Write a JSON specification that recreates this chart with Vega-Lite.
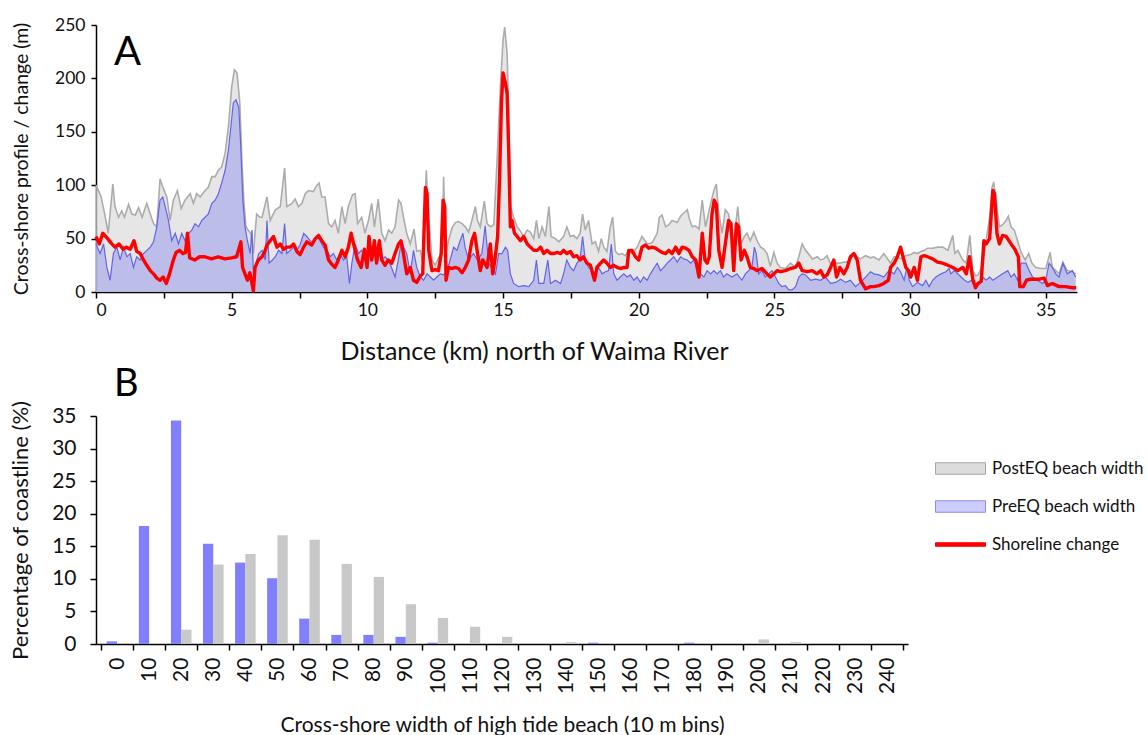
{
  "$schema": "https://vega.github.io/schema/vega-lite/v6.json",
  "padding": {"left": 8, "top": 16, "right": 0, "bottom": 0},
  "background": "white",
  "datasets": {
    "post": [{"k":0,"v":100},{"k":0.18,"v":90},{"k":0.33,"v":72},{"k":0.45,"v":55},{"k":0.62,"v":101},{"k":0.7,"v":80},{"k":0.83,"v":70},{"k":0.95,"v":76},{"k":1.05,"v":70},{"k":1.2,"v":82},{"k":1.32,"v":73},{"k":1.45,"v":72},{"k":1.57,"v":79},{"k":1.7,"v":70},{"k":1.87,"v":83},{"k":2.0,"v":73},{"k":2.12,"v":64},{"k":2.24,"v":61},{"k":2.36,"v":106},{"k":2.48,"v":97},{"k":2.61,"v":89},{"k":2.73,"v":67},{"k":2.85,"v":86},{"k":3.0,"v":95},{"k":3.14,"v":78},{"k":3.28,"v":86},{"k":3.47,"v":92},{"k":3.59,"v":83},{"k":3.71,"v":92},{"k":3.84,"v":89},{"k":4.02,"v":95},{"k":4.14,"v":98},{"k":4.27,"v":108},{"k":4.39,"v":108},{"k":4.51,"v":114},{"k":4.63,"v":117},{"k":4.76,"v":130},{"k":4.88,"v":155},{"k":5.0,"v":192},{"k":5.1,"v":208},{"k":5.2,"v":205},{"k":5.3,"v":177},{"k":5.38,"v":120},{"k":5.45,"v":85},{"k":5.52,"v":62},{"k":5.6,"v":58},{"k":5.7,"v":55},{"k":5.8,"v":36},{"k":5.92,"v":73},{"k":6.04,"v":70},{"k":6.12,"v":70},{"k":6.3,"v":89},{"k":6.42,"v":67},{"k":6.61,"v":77},{"k":6.79,"v":80},{"k":6.95,"v":116},{"k":7.03,"v":80},{"k":7.22,"v":83},{"k":7.34,"v":87},{"k":7.46,"v":80},{"k":7.59,"v":83},{"k":7.71,"v":92},{"k":7.83,"v":95},{"k":8.01,"v":94},{"k":8.14,"v":100},{"k":8.22,"v":102},{"k":8.32,"v":89},{"k":8.44,"v":89},{"k":8.57,"v":64},{"k":8.69,"v":61},{"k":8.81,"v":67},{"k":8.93,"v":55},{"k":9.06,"v":80},{"k":9.18,"v":64},{"k":9.3,"v":80},{"k":9.45,"v":91},{"k":9.55,"v":92},{"k":9.64,"v":64},{"k":9.79,"v":70},{"k":9.91,"v":55},{"k":10.04,"v":67},{"k":10.16,"v":83},{"k":10.26,"v":61},{"k":10.4,"v":87},{"k":10.53,"v":55},{"k":10.65,"v":48},{"k":10.78,"v":58},{"k":10.9,"v":55},{"k":11.02,"v":61},{"k":11.15,"v":86},{"k":11.24,"v":83},{"k":11.33,"v":70},{"k":11.45,"v":55},{"k":11.58,"v":45},{"k":11.72,"v":59},{"k":11.82,"v":38},{"k":11.95,"v":39},{"k":12.04,"v":28},{"k":12.17,"v":114},{"k":12.25,"v":73},{"k":12.38,"v":30},{"k":12.5,"v":25},{"k":12.62,"v":32},{"k":12.75,"v":36},{"k":12.81,"v":108},{"k":12.89,"v":35},{"k":12.99,"v":48},{"k":13.12,"v":60},{"k":13.24,"v":65},{"k":13.36,"v":66},{"k":13.49,"v":64},{"k":13.61,"v":61},{"k":13.73,"v":56},{"k":13.85,"v":67},{"k":13.98,"v":80},{"k":14.06,"v":67},{"k":14.16,"v":61},{"k":14.31,"v":85},{"k":14.41,"v":64},{"k":14.53,"v":61},{"k":14.66,"v":63},{"k":14.78,"v":123},{"k":14.9,"v":192},{"k":15.0,"v":236},{"k":15.06,"v":248},{"k":15.15,"v":223},{"k":15.21,"v":161},{"k":15.27,"v":80},{"k":15.39,"v":70},{"k":15.52,"v":61},{"k":15.64,"v":57},{"k":15.76,"v":52},{"k":15.89,"v":58},{"k":16.01,"v":56},{"k":16.13,"v":50},{"k":16.23,"v":67},{"k":16.32,"v":50},{"k":16.44,"v":61},{"k":16.56,"v":52},{"k":16.69,"v":80},{"k":16.77,"v":52},{"k":16.93,"v":50},{"k":17.06,"v":47},{"k":17.23,"v":52},{"k":17.35,"v":61},{"k":17.48,"v":52},{"k":17.6,"v":53},{"k":17.72,"v":50},{"k":17.84,"v":55},{"k":17.93,"v":73},{"k":18.03,"v":58},{"k":18.15,"v":67},{"k":18.28,"v":45},{"k":18.4,"v":47},{"k":18.52,"v":38},{"k":18.62,"v":50},{"k":18.71,"v":42},{"k":18.83,"v":38},{"k":18.95,"v":61},{"k":19.04,"v":70},{"k":19.14,"v":38},{"k":19.26,"v":35},{"k":19.38,"v":36},{"k":19.51,"v":34},{"k":19.63,"v":39},{"k":19.75,"v":36},{"k":19.94,"v":42},{"k":20.12,"v":52},{"k":20.31,"v":45},{"k":20.49,"v":46},{"k":20.68,"v":55},{"k":20.76,"v":70},{"k":20.86,"v":72},{"k":20.99,"v":61},{"k":21.11,"v":63},{"k":21.23,"v":67},{"k":21.42,"v":65},{"k":21.54,"v":71},{"k":21.66,"v":74},{"k":21.79,"v":77},{"k":21.87,"v":68},{"k":21.97,"v":61},{"k":22.09,"v":62},{"k":22.22,"v":59},{"k":22.34,"v":86},{"k":22.46,"v":61},{"k":22.65,"v":83},{"k":22.77,"v":95},{"k":22.86,"v":101},{"k":22.93,"v":78},{"k":23.07,"v":55},{"k":23.19,"v":77},{"k":23.31,"v":73},{"k":23.4,"v":55},{"k":23.5,"v":48},{"k":23.65,"v":80},{"k":23.77,"v":45},{"k":23.89,"v":52},{"k":23.99,"v":55},{"k":24.11,"v":48},{"k":24.24,"v":56},{"k":24.36,"v":48},{"k":24.49,"v":42},{"k":24.62,"v":40},{"k":24.73,"v":36},{"k":24.85,"v":24},{"k":24.98,"v":37},{"k":25.1,"v":27},{"k":25.22,"v":23},{"k":25.41,"v":22},{"k":25.59,"v":27},{"k":25.77,"v":23},{"k":25.9,"v":33},{"k":26.02,"v":45},{"k":26.15,"v":39},{"k":26.28,"v":35},{"k":26.4,"v":31},{"k":26.58,"v":33},{"k":26.7,"v":30},{"k":26.82,"v":31},{"k":26.94,"v":34},{"k":27.07,"v":26},{"k":27.19,"v":25},{"k":27.29,"v":27},{"k":27.41,"v":27},{"k":27.56,"v":28},{"k":27.68,"v":28},{"k":27.8,"v":30},{"k":27.93,"v":36},{"k":28.05,"v":33},{"k":28.17,"v":31},{"k":28.36,"v":34},{"k":28.54,"v":32},{"k":28.66,"v":33},{"k":28.85,"v":30},{"k":29.03,"v":36},{"k":29.2,"v":30},{"k":29.28,"v":27},{"k":29.41,"v":33},{"k":29.53,"v":33},{"k":29.65,"v":31},{"k":29.84,"v":34},{"k":30.02,"v":35},{"k":30.15,"v":37},{"k":30.27,"v":36},{"k":30.4,"v":38},{"k":30.52,"v":39},{"k":30.64,"v":41},{"k":30.83,"v":41},{"k":31.01,"v":42},{"k":31.2,"v":42},{"k":31.39,"v":39},{"k":31.57,"v":53},{"k":31.65,"v":36},{"k":31.76,"v":39},{"k":31.94,"v":30},{"k":32.07,"v":27},{"k":32.2,"v":53},{"k":32.31,"v":20},{"k":32.41,"v":15},{"k":32.5,"v":16},{"k":32.62,"v":22},{"k":32.72,"v":33},{"k":32.8,"v":48},{"k":32.93,"v":70},{"k":33.02,"v":98},{"k":33.08,"v":103},{"k":33.17,"v":86},{"k":33.29,"v":61},{"k":33.41,"v":63},{"k":33.54,"v":67},{"k":33.62,"v":71},{"k":33.72,"v":61},{"k":33.84,"v":58},{"k":33.96,"v":48},{"k":34.09,"v":37},{"k":34.24,"v":30},{"k":34.37,"v":36},{"k":34.49,"v":27},{"k":34.63,"v":23},{"k":34.82,"v":22},{"k":35.0,"v":22},{"k":35.16,"v":37},{"k":35.24,"v":23},{"k":35.37,"v":20},{"k":35.49,"v":17},{"k":35.63,"v":28},{"k":35.79,"v":20},{"k":35.98,"v":19},{"k":36.1,"v":17}],
    "pre": [{"k":0,"v":45},{"k":0.15,"v":36},{"k":0.28,"v":45},{"k":0.4,"v":23},{"k":0.52,"v":11},{"k":0.64,"v":36},{"k":0.77,"v":42},{"k":0.89,"v":30},{"k":1.01,"v":42},{"k":1.14,"v":33},{"k":1.26,"v":36},{"k":1.38,"v":23},{"k":1.5,"v":33},{"k":1.63,"v":30},{"k":1.75,"v":36},{"k":1.87,"v":39},{"k":2.0,"v":42},{"k":2.12,"v":47},{"k":2.24,"v":61},{"k":2.36,"v":86},{"k":2.46,"v":89},{"k":2.55,"v":80},{"k":2.67,"v":67},{"k":2.79,"v":48},{"k":2.92,"v":55},{"k":3.04,"v":45},{"k":3.16,"v":55},{"k":3.28,"v":48},{"k":3.41,"v":55},{"k":3.53,"v":58},{"k":3.65,"v":64},{"k":3.78,"v":61},{"k":3.9,"v":67},{"k":4.02,"v":70},{"k":4.14,"v":73},{"k":4.27,"v":83},{"k":4.39,"v":86},{"k":4.51,"v":92},{"k":4.63,"v":102},{"k":4.76,"v":114},{"k":4.88,"v":133},{"k":4.97,"v":155},{"k":5.06,"v":177},{"k":5.16,"v":180},{"k":5.26,"v":173},{"k":5.33,"v":139},{"k":5.41,"v":86},{"k":5.49,"v":61},{"k":5.58,"v":48},{"k":5.68,"v":36},{"k":5.75,"v":58},{"k":5.8,"v":17},{"k":5.93,"v":30},{"k":6.0,"v":36},{"k":6.12,"v":39},{"k":6.24,"v":30},{"k":6.3,"v":67},{"k":6.38,"v":27},{"k":6.5,"v":30},{"k":6.61,"v":33},{"k":6.73,"v":39},{"k":6.85,"v":36},{"k":6.95,"v":64},{"k":7.03,"v":36},{"k":7.16,"v":39},{"k":7.28,"v":42},{"k":7.4,"v":39},{"k":7.52,"v":44},{"k":7.65,"v":55},{"k":7.77,"v":52},{"k":7.89,"v":48},{"k":8.01,"v":47},{"k":8.14,"v":52},{"k":8.26,"v":48},{"k":8.38,"v":42},{"k":8.5,"v":39},{"k":8.63,"v":33},{"k":8.75,"v":36},{"k":8.87,"v":30},{"k":8.99,"v":36},{"k":9.12,"v":30},{"k":9.24,"v":33},{"k":9.34,"v":8},{"k":9.43,"v":27},{"k":9.55,"v":45},{"k":9.67,"v":36},{"k":9.79,"v":39},{"k":9.91,"v":33},{"k":10.04,"v":42},{"k":10.16,"v":36},{"k":10.28,"v":42},{"k":10.4,"v":36},{"k":10.53,"v":30},{"k":10.65,"v":33},{"k":10.77,"v":30},{"k":10.89,"v":23},{"k":11.02,"v":14},{"k":11.14,"v":30},{"k":11.26,"v":48},{"k":11.33,"v":42},{"k":11.45,"v":36},{"k":11.58,"v":17},{"k":11.7,"v":39},{"k":11.82,"v":23},{"k":11.95,"v":14},{"k":12.07,"v":11},{"k":12.2,"v":17},{"k":12.32,"v":14},{"k":12.44,"v":11},{"k":12.56,"v":14},{"k":12.69,"v":17},{"k":12.81,"v":16},{"k":12.93,"v":20},{"k":13.05,"v":30},{"k":13.18,"v":42},{"k":13.3,"v":39},{"k":13.42,"v":48},{"k":13.52,"v":55},{"k":13.6,"v":42},{"k":13.73,"v":30},{"k":13.91,"v":36},{"k":14.06,"v":30},{"k":14.22,"v":36},{"k":14.34,"v":62},{"k":14.47,"v":27},{"k":14.59,"v":23},{"k":14.72,"v":17},{"k":14.84,"v":36},{"k":14.96,"v":36},{"k":15.09,"v":42},{"k":15.17,"v":39},{"k":15.27,"v":17},{"k":15.39,"v":8},{"k":15.58,"v":5},{"k":15.76,"v":6},{"k":15.95,"v":5},{"k":16.13,"v":11},{"k":16.23,"v":30},{"k":16.32,"v":8},{"k":16.5,"v":8},{"k":16.65,"v":30},{"k":16.75,"v":8},{"k":16.93,"v":11},{"k":17.12,"v":8},{"k":17.23,"v":17},{"k":17.35,"v":30},{"k":17.48,"v":23},{"k":17.6,"v":20},{"k":17.72,"v":27},{"k":17.84,"v":31},{"k":17.93,"v":52},{"k":18.03,"v":30},{"k":18.15,"v":23},{"k":18.28,"v":20},{"k":18.4,"v":17},{"k":18.52,"v":23},{"k":18.65,"v":17},{"k":18.77,"v":19},{"k":18.89,"v":20},{"k":18.99,"v":45},{"k":19.08,"v":17},{"k":19.2,"v":11},{"k":19.32,"v":14},{"k":19.45,"v":17},{"k":19.57,"v":14},{"k":19.69,"v":16},{"k":19.82,"v":11},{"k":19.94,"v":14},{"k":20.06,"v":9},{"k":20.18,"v":14},{"k":20.31,"v":11},{"k":20.43,"v":17},{"k":20.55,"v":22},{"k":20.68,"v":27},{"k":20.8,"v":20},{"k":20.92,"v":23},{"k":21.05,"v":27},{"k":21.17,"v":30},{"k":21.29,"v":33},{"k":21.42,"v":28},{"k":21.54,"v":33},{"k":21.66,"v":31},{"k":21.79,"v":30},{"k":21.91,"v":27},{"k":22.03,"v":30},{"k":22.15,"v":23},{"k":22.28,"v":17},{"k":22.4,"v":14},{"k":22.52,"v":20},{"k":22.65,"v":17},{"k":22.77,"v":20},{"k":22.89,"v":17},{"k":23.01,"v":20},{"k":23.13,"v":14},{"k":23.25,"v":17},{"k":23.43,"v":14},{"k":23.62,"v":17},{"k":23.8,"v":11},{"k":23.93,"v":17},{"k":24.05,"v":20},{"k":24.17,"v":23},{"k":24.26,"v":42},{"k":24.33,"v":36},{"k":24.42,"v":17},{"k":24.54,"v":20},{"k":24.66,"v":14},{"k":24.79,"v":17},{"k":24.91,"v":20},{"k":25.04,"v":14},{"k":25.16,"v":8},{"k":25.28,"v":5},{"k":25.41,"v":6},{"k":25.53,"v":2},{"k":25.65,"v":2},{"k":25.78,"v":5},{"k":25.9,"v":14},{"k":26.02,"v":17},{"k":26.15,"v":16},{"k":26.33,"v":11},{"k":26.51,"v":12},{"k":26.7,"v":11},{"k":26.88,"v":14},{"k":27.07,"v":8},{"k":27.25,"v":9},{"k":27.44,"v":12},{"k":27.62,"v":9},{"k":27.8,"v":11},{"k":27.99,"v":5},{"k":28.17,"v":9},{"k":28.36,"v":14},{"k":28.54,"v":19},{"k":28.67,"v":17},{"k":28.85,"v":16},{"k":29.03,"v":14},{"k":29.22,"v":20},{"k":29.41,"v":17},{"k":29.53,"v":23},{"k":29.65,"v":19},{"k":29.78,"v":11},{"k":29.88,"v":23},{"k":29.97,"v":11},{"k":30.09,"v":5},{"k":30.27,"v":9},{"k":30.46,"v":6},{"k":30.58,"v":11},{"k":30.7,"v":5},{"k":30.83,"v":11},{"k":30.95,"v":14},{"k":31.14,"v":17},{"k":31.32,"v":19},{"k":31.44,"v":22},{"k":31.5,"v":17},{"k":31.63,"v":20},{"k":31.76,"v":17},{"k":31.88,"v":14},{"k":32.01,"v":11},{"k":32.13,"v":9},{"k":32.26,"v":11},{"k":32.38,"v":5},{"k":32.56,"v":8},{"k":32.68,"v":14},{"k":32.8,"v":11},{"k":32.93,"v":14},{"k":33.05,"v":11},{"k":33.23,"v":14},{"k":33.41,"v":17},{"k":33.6,"v":20},{"k":33.72,"v":14},{"k":33.84,"v":17},{"k":33.96,"v":11},{"k":34.09,"v":27},{"k":34.27,"v":27},{"k":34.39,"v":20},{"k":34.51,"v":14},{"k":34.69,"v":11},{"k":34.88,"v":8},{"k":35.0,"v":11},{"k":35.12,"v":27},{"k":35.24,"v":23},{"k":35.37,"v":17},{"k":35.49,"v":14},{"k":35.63,"v":27},{"k":35.79,"v":17},{"k":35.98,"v":20},{"k":36.1,"v":14}],
    "chg": [{"k":0,"v":52},{"k":0.12,"v":45},{"k":0.25,"v":55},{"k":0.43,"v":50},{"k":0.55,"v":46},{"k":0.7,"v":42},{"k":0.85,"v":45},{"k":1.0,"v":40},{"k":1.12,"v":42},{"k":1.26,"v":40},{"k":1.4,"v":48},{"k":1.5,"v":38},{"k":1.63,"v":36},{"k":1.75,"v":30},{"k":1.87,"v":25},{"k":2.0,"v":20},{"k":2.12,"v":17},{"k":2.24,"v":13},{"k":2.36,"v":11},{"k":2.47,"v":14},{"k":2.59,"v":8},{"k":2.71,"v":17},{"k":2.85,"v":30},{"k":2.95,"v":37},{"k":3.08,"v":39},{"k":3.2,"v":36},{"k":3.3,"v":37},{"k":3.37,"v":55},{"k":3.45,"v":32},{"k":3.64,"v":30},{"k":3.82,"v":33},{"k":4.01,"v":33},{"k":4.25,"v":31},{"k":4.5,"v":33},{"k":4.75,"v":31},{"k":4.99,"v":32},{"k":5.18,"v":33},{"k":5.34,"v":47},{"k":5.4,"v":23},{"k":5.49,"v":17},{"k":5.58,"v":11},{"k":5.67,"v":18},{"k":5.8,"v":1},{"k":5.86,"v":23},{"k":5.98,"v":30},{"k":6.12,"v":33},{"k":6.22,"v":38},{"k":6.3,"v":44},{"k":6.42,"v":48},{"k":6.54,"v":52},{"k":6.67,"v":42},{"k":6.79,"v":45},{"k":6.91,"v":40},{"k":7.03,"v":42},{"k":7.16,"v":42},{"k":7.28,"v":45},{"k":7.4,"v":38},{"k":7.52,"v":35},{"k":7.65,"v":42},{"k":7.77,"v":47},{"k":7.95,"v":44},{"k":8.08,"v":50},{"k":8.2,"v":53},{"k":8.32,"v":48},{"k":8.44,"v":44},{"k":8.57,"v":30},{"k":8.69,"v":26},{"k":8.81,"v":23},{"k":8.93,"v":30},{"k":9.06,"v":39},{"k":9.18,"v":33},{"k":9.3,"v":42},{"k":9.4,"v":55},{"k":9.52,"v":42},{"k":9.64,"v":30},{"k":9.77,"v":23},{"k":9.89,"v":40},{"k":9.99,"v":23},{"k":10.06,"v":52},{"k":10.16,"v":30},{"k":10.26,"v":48},{"k":10.34,"v":27},{"k":10.44,"v":48},{"k":10.53,"v":30},{"k":10.65,"v":25},{"k":10.77,"v":30},{"k":10.9,"v":27},{"k":11.02,"v":36},{"k":11.15,"v":45},{"k":11.24,"v":48},{"k":11.33,"v":36},{"k":11.45,"v":17},{"k":11.58,"v":23},{"k":11.7,"v":11},{"k":11.82,"v":9},{"k":11.95,"v":15},{"k":12.04,"v":17},{"k":12.1,"v":67},{"k":12.14,"v":98},{"k":12.2,"v":92},{"k":12.26,"v":39},{"k":12.38,"v":20},{"k":12.5,"v":21},{"k":12.62,"v":20},{"k":12.72,"v":36},{"k":12.79,"v":86},{"k":12.85,"v":80},{"k":12.9,"v":11},{"k":12.99,"v":23},{"k":13.12,"v":22},{"k":13.24,"v":23},{"k":13.36,"v":22},{"k":13.49,"v":18},{"k":13.61,"v":23},{"k":13.73,"v":30},{"k":13.85,"v":48},{"k":13.95,"v":55},{"k":14.06,"v":36},{"k":14.16,"v":20},{"k":14.25,"v":30},{"k":14.41,"v":23},{"k":14.53,"v":45},{"k":14.62,"v":17},{"k":14.7,"v":30},{"k":14.8,"v":52},{"k":14.87,"v":105},{"k":14.94,"v":177},{"k":15.0,"v":205},{"k":15.09,"v":195},{"k":15.15,"v":186},{"k":15.21,"v":130},{"k":15.27,"v":61},{"k":15.33,"v":67},{"k":15.42,"v":55},{"k":15.52,"v":52},{"k":15.64,"v":48},{"k":15.76,"v":52},{"k":15.89,"v":45},{"k":16.01,"v":42},{"k":16.13,"v":39},{"k":16.26,"v":39},{"k":16.38,"v":42},{"k":16.5,"v":36},{"k":16.62,"v":39},{"k":16.75,"v":36},{"k":16.87,"v":36},{"k":17.0,"v":37},{"k":17.12,"v":36},{"k":17.23,"v":39},{"k":17.35,"v":36},{"k":17.48,"v":38},{"k":17.6,"v":33},{"k":17.72,"v":34},{"k":17.84,"v":30},{"k":17.96,"v":33},{"k":18.09,"v":27},{"k":18.22,"v":25},{"k":18.37,"v":11},{"k":18.46,"v":23},{"k":18.59,"v":27},{"k":18.71,"v":30},{"k":18.83,"v":27},{"k":18.95,"v":23},{"k":19.08,"v":25},{"k":19.2,"v":23},{"k":19.32,"v":22},{"k":19.45,"v":23},{"k":19.57,"v":23},{"k":19.63,"v":39},{"k":19.75,"v":39},{"k":19.88,"v":33},{"k":20.0,"v":30},{"k":20.12,"v":42},{"k":20.25,"v":44},{"k":20.37,"v":41},{"k":20.49,"v":42},{"k":20.62,"v":41},{"k":20.74,"v":39},{"k":20.86,"v":37},{"k":20.99,"v":36},{"k":21.11,"v":39},{"k":21.23,"v":36},{"k":21.36,"v":42},{"k":21.48,"v":36},{"k":21.6,"v":42},{"k":21.73,"v":41},{"k":21.85,"v":39},{"k":21.97,"v":33},{"k":22.1,"v":30},{"k":22.22,"v":14},{"k":22.34,"v":55},{"k":22.44,"v":30},{"k":22.52,"v":27},{"k":22.6,"v":33},{"k":22.7,"v":73},{"k":22.78,"v":86},{"k":22.86,"v":82},{"k":22.95,"v":39},{"k":23.07,"v":23},{"k":23.19,"v":45},{"k":23.31,"v":67},{"k":23.4,"v":64},{"k":23.5,"v":20},{"k":23.6,"v":64},{"k":23.68,"v":61},{"k":23.77,"v":30},{"k":23.89,"v":39},{"k":23.99,"v":33},{"k":24.11,"v":23},{"k":24.24,"v":22},{"k":24.36,"v":20},{"k":24.54,"v":22},{"k":24.73,"v":17},{"k":24.85,"v":14},{"k":24.98,"v":17},{"k":25.1,"v":20},{"k":25.22,"v":19},{"k":25.41,"v":20},{"k":25.59,"v":22},{"k":25.77,"v":23},{"k":25.9,"v":27},{"k":26.02,"v":20},{"k":26.21,"v":19},{"k":26.39,"v":20},{"k":26.57,"v":17},{"k":26.7,"v":20},{"k":26.82,"v":14},{"k":26.94,"v":16},{"k":27.07,"v":23},{"k":27.19,"v":30},{"k":27.29,"v":14},{"k":27.41,"v":23},{"k":27.56,"v":17},{"k":27.68,"v":23},{"k":27.8,"v":33},{"k":27.93,"v":36},{"k":28.05,"v":30},{"k":28.17,"v":11},{"k":28.36,"v":3},{"k":28.54,"v":5},{"k":28.66,"v":5},{"k":28.85,"v":6},{"k":29.03,"v":8},{"k":29.2,"v":11},{"k":29.28,"v":23},{"k":29.41,"v":27},{"k":29.53,"v":33},{"k":29.65,"v":42},{"k":29.74,"v":33},{"k":29.84,"v":23},{"k":29.94,"v":20},{"k":30.02,"v":14},{"k":30.15,"v":23},{"k":30.27,"v":11},{"k":30.4,"v":33},{"k":30.52,"v":34},{"k":30.64,"v":33},{"k":30.83,"v":31},{"k":31.01,"v":28},{"k":31.2,"v":27},{"k":31.39,"v":25},{"k":31.57,"v":23},{"k":31.76,"v":20},{"k":31.94,"v":23},{"k":32.07,"v":17},{"k":32.19,"v":33},{"k":32.31,"v":12},{"k":32.41,"v":4},{"k":32.5,"v":8},{"k":32.62,"v":10},{"k":32.72,"v":48},{"k":32.8,"v":45},{"k":32.93,"v":50},{"k":33.05,"v":95},{"k":33.11,"v":92},{"k":33.2,"v":55},{"k":33.29,"v":45},{"k":33.41,"v":53},{"k":33.54,"v":52},{"k":33.72,"v":45},{"k":33.86,"v":40},{"k":33.99,"v":33},{"k":34.04,"v":5},{"k":34.17,"v":5},{"k":34.29,"v":11},{"k":34.42,"v":12},{"k":34.57,"v":12},{"k":34.76,"v":12},{"k":34.94,"v":13},{"k":35.06,"v":6},{"k":35.24,"v":8},{"k":35.49,"v":5},{"k":35.73,"v":5},{"k":35.98,"v":4},{"k":36.12,"v":4}],
    "bins": [{"bin":0,"pre":0.4,"post":0},{"bin":10,"pre":18.1,"post":0.1},{"bin":20,"pre":34.3,"post":2.2},{"bin":30,"pre":15.4,"post":12.2},{"bin":40,"pre":12.5,"post":13.8},{"bin":50,"pre":10.1,"post":16.7},{"bin":60,"pre":3.9,"post":16.0},{"bin":70,"pre":1.4,"post":12.3},{"bin":80,"pre":1.4,"post":10.3},{"bin":90,"pre":1.1,"post":6.1},{"bin":100,"pre":0.2,"post":4.0},{"bin":110,"pre":0,"post":2.65},{"bin":120,"pre":0,"post":1.1},{"bin":130,"pre":0,"post":0},{"bin":140,"pre":0,"post":0.3},{"bin":150,"pre":0.2,"post":0},{"bin":160,"pre":0,"post":0},{"bin":170,"pre":0,"post":0},{"bin":180,"pre":0.2,"post":0},{"bin":190,"pre":0,"post":0},{"bin":200,"pre":0,"post":0.7},{"bin":210,"pre":0,"post":0.3},{"bin":220,"pre":0,"post":0},{"bin":230,"pre":0,"post":0},{"bin":240,"pre":0,"post":0}],
    "leg": [{"name":"PostEQ beach width"},{"name":"PreEQ beach width"},{"name":"Shoreline change"}]
  },
  "vconcat": [
    {
      "width": 981,
      "height": 267,
      "title": {"text": "A", "anchor": "start", "frame": "group", "fontSize": 40, "font": "Lato", "fontWeight": "normal", "color": "#000", "dx": 18, "dy": 57, "offset": 0},
      "layer": [
        {
          "data": {"name": "post"},
          "mark": {"type": "area", "color": "#dcdcdc", "line": {"color": "#acacac", "strokeWidth": 1.6}},
          "encoding": {
            "x": {"field": "k", "type": "quantitative", "scale": {"domain": [0, 36.15], "nice": false, "zero": false},
              "axis": {"title": "Distance (km) north of Waima River", "titleFontSize": 25, "titleX": 438, "values": [0,2.5,5,7.5,10,12.5,15,17.5,20,22.5,25,27.5,30,32.5,35], "tickCount": 40, "labelExpr": "datum.value % 5 == 0 ? datum.label : ''", "labelOverlap": false, "tickSize": 6, "labelPadding": 3, "labelFontSize": 17.5, "titlePadding": 21}},
            "y": {"field": "v", "type": "quantitative", "scale": {"domain": [0, 250], "nice": false},
              "axis": {"title": "Cross-shore profile / change (m)", "titleFontSize": 19.5, "values": [0,50,100,150,200,250], "tickCount": 20, "labelOverlap": false, "tickSize": 5, "labelPadding": 6, "labelFontSize": 17.5, "minExtent": 42, "maxExtent": 42, "titlePadding": 23}}
          }
        },
        {
          "data": {"name": "pre"},
          "mark": {"type": "area", "color": "#ababeb", "line": {"color": "#6464e6", "strokeWidth": 1.2}},
          "encoding": {
            "x": {"field": "k", "type": "quantitative"},
            "y": {"field": "v", "type": "quantitative"}
          }
        },
        {
          "data": {"name": "chg"},
          "mark": {"type": "line", "color": "#ff0000", "strokeWidth": 3.4, "strokeJoin": "round"},
          "encoding": {
            "x": {"field": "k", "type": "quantitative"},
            "y": {"field": "v", "type": "quantitative"}
          }
        }
      ]
    },
    {
      "width": 812,
      "height": 228,
      "title": {"text": "B", "anchor": "start", "frame": "group", "fontSize": 38, "font": "Lato", "fontWeight": "normal", "color": "#000", "dx": 18, "offset": -4},
      "layer": [
        {
          "data": {"name": "bins"},
          "mark": {"type": "bar", "orient": "vertical", "width": 10.3, "xOffset": -5.15, "color": "#8080ff"},
          "encoding": {
            "x": {"field": "bin", "type": "quantitative", "scale": {"domain": [-5, 245], "nice": false, "zero": false},
              "axis": {"title": "Cross-shore width of high tide beach (10 m bins)", "values": [-5,5,15,25,35,45,55,65,75,85,95,105,115,125,135,145,155,165,175,185,195,205,215,225,235,245], "tickCount": 60, "labelExpr": "datum.value > 240 ? '' : toString(datum.value + 5)", "labelOverlap": false, "labelOffset": 16.24, "labelAngle": -90, "labelAlign": "right", "labelBaseline": "middle", "labelFontSize": 21, "tickSize": 6, "labelPadding": 7, "titlePadding": 21}},
            "y": {"field": "pre", "type": "quantitative", "scale": {"domain": [0, 35], "nice": false},
              "axis": {"title": "Percentage of coastline (%)", "titleFontSize": 22, "values": [0,5,10,15,20,25,30,35], "tickCount": 20, "labelOverlap": false, "tickSize": 6, "labelPadding": 14, "labelFontSize": 21, "minExtent": 42, "maxExtent": 42, "titlePadding": 22}}
          }
        },
        {
          "data": {"name": "bins"},
          "mark": {"type": "bar", "orient": "vertical", "width": 10.3, "xOffset": 5.15, "color": "#c8c8c8"},
          "encoding": {
            "x": {"field": "bin", "type": "quantitative"},
            "y": {"field": "post", "type": "quantitative"}
          }
        },
        {
          "data": {"name": "leg"},
          "mark": {"type": "point", "filled": true, "opacity": 0},
          "encoding": {
            "fill": {"field": "name", "type": "nominal", "scale": {"domain": ["PostEQ beach width", "PreEQ beach width", "Shoreline change"], "range": ["#dcdcdc", "#ccccff", "#ff0000"]}, "legend": {"orient": "none", "legendX": 839, "legendY": 418, "title": null}},
            "stroke": {"field": "name", "type": "nominal", "scale": {"domain": ["PostEQ beach width", "PreEQ beach width", "Shoreline change"], "range": ["#a6a6a6", "#8c8cf0", "#ff0000"]}, "legend": {"orient": "none", "legendX": 839, "legendY": 418, "title": null}},
            "shape": {"field": "name", "type": "nominal", "scale": {"domain": ["PostEQ beach width", "PreEQ beach width", "Shoreline change"], "range": ["M-1,-0.23L1,-0.23L1,0.23L-1,0.23Z", "M-1,-0.23L1,-0.23L1,0.23L-1,0.23Z", "M-1,-0.07L1,-0.07L1,0.07L-1,0.07Z"]}, "legend": {"orient": "none", "legendX": 839, "legendY": 418, "title": null}}
          }
        }
      ]
    }
  ],
  "spacing": 1,
  "config": {
    "font": "Lato",
    "view": {"stroke": null},
    "axis": {"grid": false, "labelOverlap": false, "labelFont": "Lato", "labelFontSize": 18, "labelColor": "#111", "titleFont": "Lato", "titleFontSize": 21, "titleFontWeight": "normal", "titleColor": "#111", "domainColor": "#000", "domainWidth": 1.5, "tickColor": "#000", "tickWidth": 1.5},
    "legend": {"symbolSize": 2500, "symbolStrokeWidth": 1, "symbolOpacity": 1, "labelFont": "Lato", "labelFontSize": 17, "labelColor": "#111", "labelOffset": 6, "rowPadding": 4, "labelLimit": 300}
  }
}
